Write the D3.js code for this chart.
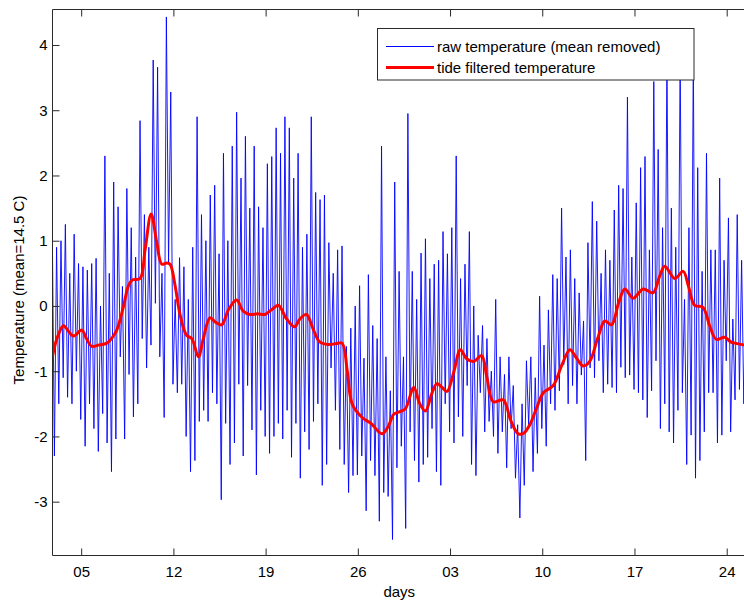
<!DOCTYPE html>
<html><head><meta charset="utf-8">
<script src="https://cdn.jsdelivr.net/npm/d3@7"></script>
<style>
html,body{margin:0;padding:0;background:#fff;}
svg{display:block;}
text{font-family:"Liberation Sans",Arial,Helvetica,sans-serif;}
</style></head><body>
<svg id="chart" width="744" height="602"></svg>
<script>
// ---- data (days counted from 1 June; 31 = 1 July) ----
const rawStartDay = 2.8;
const rawStepDays = 1/6;
const rawTemp = [
 1.3,-2.3,0.9,-1.5,1.0,-1.1,
 1.25,-1.4,0.5,-1.5,1.1,-1.0,
 0.65,-1.74,0.6,-2.15,0.55,-1.5,
 0.65,-1.88,0.73,-2.23,0.0,-1.65,
 2.3,-2.1,0.5,-2.54,1.9,-2.04,
 1.52,-0.78,0.3,-2.04,1.8,-1.05,
 1.2,-1.7,0.75,-1.5,2.84,-0.5,
 1.4,-0.95,0.9,-0.6,3.77,0.04,
 3.66,-0.78,0.5,-1.71,4.43,0.67,
 3.28,-1.2,0.1,-1.33,0.74,-1.2,
 0.6,-2.0,0.1,-2.54,0.9,-2.37,
 2.9,-1.77,1.4,-1.6,1.0,-1.77,
 1.7,-1.33,1.85,-1.5,0.8,-2.97,
 2.34,-1.8,1.0,-2.43,2.45,-2.1,
 2.97,-1.2,1.96,-2.3,2.6,-1.22,
 1.5,-1.9,2.45,-2.59,1.52,-1.6,
 1.2,-2.0,2.18,-2.26,2.29,-2.0,
 2.73,-1.8,2.34,-2.04,2.9,-1.6,
 2.73,-2.32,1.96,-1.8,2.34,-2.64,
 0.9,-1.93,1.1,-2.2,2.9,-1.77,
 1.74,-1.5,1.63,-2.75,1.7,-2.43,
 0.97,-0.95,0.5,-1.6,0.86,-2.2,
 0.92,-2.43,-0.62,-2.86,-0.34,-2.6,
 0.0,-2.59,0.31,-2.3,-0.8,-3.14,
 0.48,-2.37,-0.3,-2.6,-0.5,-3.3,
 2.45,-2.86,-0.78,-2.92,-1.3,-3.58,
 1.9,-2.48,0.53,-2.15,-0.78,-3.41,
 2.95,-1.93,0.53,-2.37,0.1,-2.7,
 0.81,-2.43,1.03,-2.32,0.42,-1.88,
 0.64,-2.54,0.7,-2.75,1.14,-1.5,
 0.8,-1.93,1.2,-2.1,2.3,-1.7,
 0.42,-2.0,0.64,-1.22,1.14,-2.43,
 0.0,-2.6,-0.45,-1.33,-0.3,-1.93,
 -0.5,-1.77,-1.0,-2.0,0.1,-2.26,
 -0.78,-1.93,-1.05,-2.48,-0.78,-1.88,
 -1.22,-2.64,-1.82,-3.25,-1.5,-2.75,
 -0.84,-1.82,-0.78,-2.54,-1.1,-2.26,
 0.15,-1.88,-0.6,-2.15,-0.06,-1.5,
 0.48,-1.6,0.42,-1.3,1.5,-0.9,
 0.75,-1.5,0.86,-1.22,0.42,-1.5,
 0.2,-1.06,-0.23,-2.37,0.97,-0.95,
 1.6,-1.1,1.3,-0.84,0.5,-1.33,
 0.86,-1.2,0.7,-1.25,1.47,-1.33,
 1.85,-0.94,1.8,-1.1,3.2,-1.06,
 0.75,-1.28,1.58,-1.33,2.12,-1.44,
 2.29,-1.71,0.86,-1.3,3.44,-0.84,
 2.4,-1.88,1.2,-1.5,3.9,-1.93,
 1.5,-2.1,0.9,-1.6,3.9,-1.33,
 0.1,-2.43,1.2,-1.98,3.9,-2.64,
 2.12,-2.37,0.53,-1.93,2.34,-1.33,
 0.86,-1.33,0.86,-2.1,1.96,-1.98,
 0.7,-0.84,1.35,-1.93,-0.2,-1.44,
 1.4,-1.28,0.7,-1.5,0.5,-1.0
];
const filtDays = [2.82,3.16,3.66,4.0,4.42,5.05,5.4,5.81,6.3,6.95,7.3,7.7,8.21,8.59,8.9,9.47,9.85,10.31,10.74,11.12,11.5,11.75,12.13,12.5,13.0,13.4,13.9,14.27,14.78,15.2,15.66,16.2,16.8,17.3,17.8,18.4,18.95,19.5,19.96,20.6,21.2,21.6,22.1,22.6,23.1,23.75,24.3,24.8,25.2,25.57,26.33,27.0,27.84,28.3,28.73,29.2,29.6,30.25,30.7,31.13,31.6,32.0,32.4,32.77,33.3,33.78,34.26,34.8,35.4,35.8,36.28,37.04,37.6,38.18,38.6,39.06,39.6,40.08,40.83,41.5,42.1,42.6,43.1,43.6,44.2,44.75,45.26,45.8,46.27,46.9,47.66,48.4,48.9,49.3,50.06,50.7,51.1,51.57,52.2,52.7,53.2,53.85,54.3,54.6,55.4];
const filtTemp = [-0.78,-0.5,-0.30,-0.38,-0.46,-0.37,-0.5,-0.62,-0.6,-0.57,-0.5,-0.37,-0.01,0.31,0.4,0.42,0.86,1.41,0.97,0.64,0.66,0.64,0.31,-0.13,-0.45,-0.5,-0.78,-0.5,-0.18,-0.25,-0.29,-0.05,0.09,-0.08,-0.13,-0.12,-0.13,-0.05,0.01,-0.2,-0.32,-0.2,-0.13,-0.35,-0.55,-0.59,-0.58,-0.57,-1.0,-1.5,-1.71,-1.8,-1.96,-1.85,-1.66,-1.62,-1.58,-1.25,-1.5,-1.61,-1.35,-1.19,-1.25,-1.31,-1.0,-0.67,-0.81,-0.85,-0.76,-1.1,-1.47,-1.44,-1.75,-1.96,-1.95,-1.82,-1.55,-1.33,-1.22,-0.9,-0.67,-0.8,-0.92,-0.85,-0.5,-0.23,-0.29,0.05,0.26,0.12,0.26,0.2,0.45,0.61,0.42,0.53,0.3,0.01,-0.02,-0.3,-0.51,-0.48,-0.55,-0.57,-0.6];
const xTickDays = [5,12,19,26,33,40,47,54];
const yTicks = [-3,-2,-1,0,1,2,3,4];
const seriesNames = ["raw temperature (mean removed)","tide filtered temperature"];
const seriesColors = ["#0000ff","#ff0000"];

// ---- chart ----
const svg = d3.select("#chart");
const L = 52.5, T = 9.5, R = 745, B = 555.5;
const dayToDate = d => new Date(Date.UTC(2010,5,1) + (d-1)*864e5);
const x = d3.scaleUtc().domain([dayToDate(2.823), dayToDate(55.39)]).range([L, R]);
const y = d3.scaleLinear().domain([-3.825, 4.544]).range([B, T]);

svg.append("rect").attr("width",744).attr("height",602).attr("fill","#fff");
svg.append("clipPath").attr("id","clip").append("rect")
  .attr("x",L).attr("y",T).attr("width",R-L).attr("height",B-T);

const plot = svg.append("g").attr("clip-path","url(#clip)");
const rawLine = d3.line()
  .x((d,i)=>x(dayToDate(rawStartDay + i*rawStepDays)))
  .y(d=>y(d));
plot.append("path").datum(rawTemp).attr("d",rawLine)
  .attr("fill","none").attr("stroke",seriesColors[0]).attr("stroke-width",0.9)
  .attr("stroke-linejoin","miter");

const filtLine = d3.line()
  .x((d,i)=>x(dayToDate(filtDays[i])))
  .y(d=>y(d))
  .curve(d3.curveCatmullRom.alpha(0.5));
plot.append("path").datum(filtTemp).attr("d",filtLine)
  .attr("fill","none").attr("stroke",seriesColors[1]).attr("stroke-width",3)
  .attr("stroke-linejoin","round");

const axisColor = "#2a2a2a";
const tickDates = xTickDays.map(dayToDate);
const gx = svg.append("g").attr("transform",`translate(0,${B})`)
  .call(d3.axisBottom(x).tickValues(tickDates).tickFormat(d3.utcFormat("%d"))
    .tickSizeInner(-7).tickSizeOuter(0).tickPadding(10.5));
const gxt = svg.append("g").attr("transform",`translate(0,${T})`)
  .call(d3.axisTop(x).tickValues(tickDates).tickFormat("")
    .tickSizeInner(-7).tickSizeOuter(0));
const gy = svg.append("g").attr("transform",`translate(${L},0)`)
  .call(d3.axisLeft(y).tickValues(yTicks).tickFormat(d=>String(d))
    .tickSizeInner(-7).tickSizeOuter(0).tickPadding(5));
[gx,gxt,gy].forEach(g=>{
  g.select(".domain").remove();
  g.selectAll("line").attr("stroke",axisColor);
  g.selectAll("text").attr("fill","#000").style("font-size","15px")
   .style("font-family",'"Liberation Sans",Arial,sans-serif');
});
// axes box (left, top, bottom)
svg.append("path")
  .attr("d",`M${R},${T}H${L}V${B}H${R}`)
  .attr("fill","none").attr("stroke",axisColor).attr("stroke-width",1);

// axis labels
svg.append("text").attr("x",(L+744)/2+1).attr("y",597)
  .attr("text-anchor","middle").style("font-size","15px").text("days");
svg.append("text").attr("transform","translate(24,290) rotate(-90)")
  .attr("text-anchor","middle").style("font-size","15px")
  .text("Temperature (mean=14.5 C)");

// legend
const lg = svg.append("g");
lg.append("rect").attr("x",377.5).attr("y",28.5).attr("width",316.5).attr("height",51.5)
  .attr("fill","#fff").attr("stroke",axisColor).attr("stroke-width",1);
const rows = [46.5, 67.5];
seriesNames.forEach((nm,i)=>{
  lg.append("line").attr("x1",386).attr("x2",434).attr("y1",rows[i]).attr("y2",rows[i])
    .attr("stroke",seriesColors[i]).attr("stroke-width",i===0?1:3);
  lg.append("text").attr("x",437).attr("y",rows[i]+5)
    .style("font-size","15px").text(nm);
});
</script>
</body></html>
